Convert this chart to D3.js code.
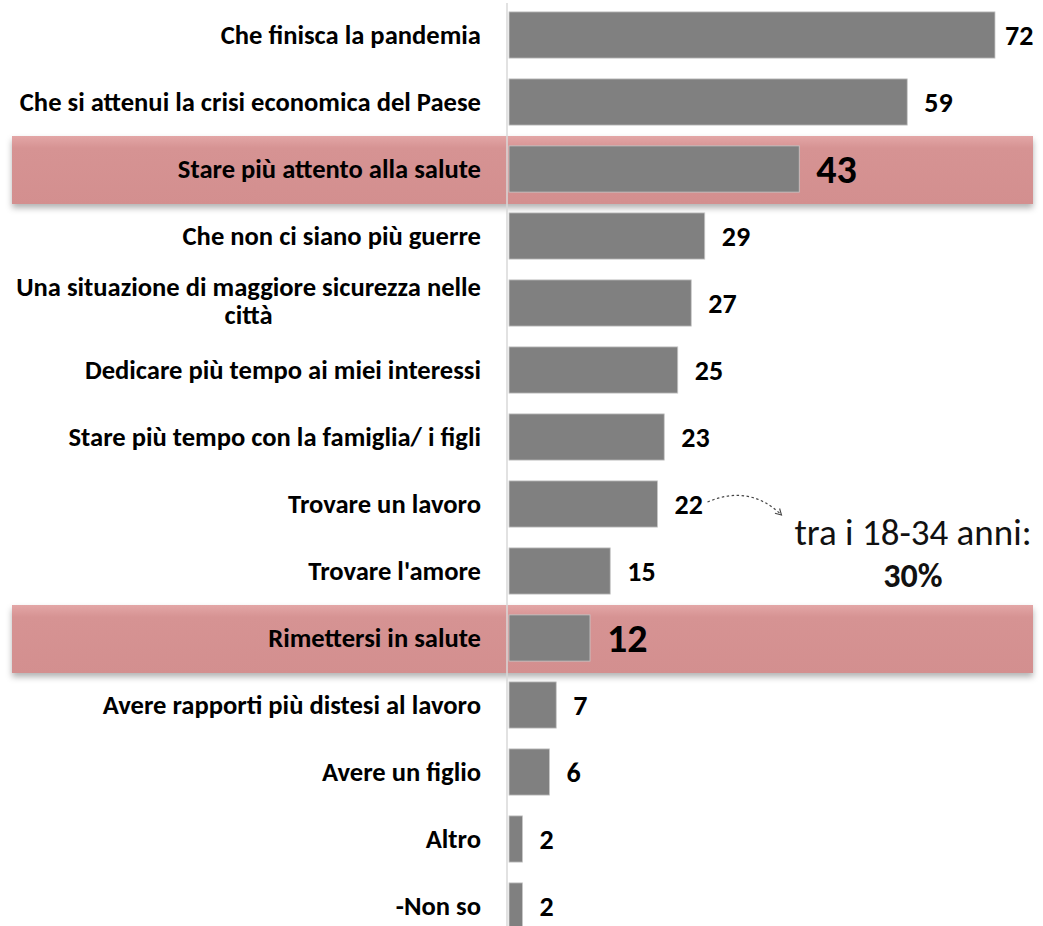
<!DOCTYPE html>
<html>
<head>
<meta charset="utf-8">
<script src="https://cdn.jsdelivr.net/npm/d3@7"></script>
<style>
  html, body { margin: 0; padding: 0; background: #fff; }
  svg { display: block; font-family: Carlito, Calibri, Lato, sans-serif; }
</style>
</head>
<body>
<svg id="chart" width="1043" height="926"></svg>
<script>
const categories = [
  "Che finisca la pandemia",
  "Che si attenui la crisi economica del Paese",
  "Stare più attento alla salute",
  "Che non ci siano più guerre",
  "Una situazione di maggiore sicurezza nelle città",
  "Dedicare più tempo ai miei interessi",
  "Stare più tempo con la famiglia/ i figli",
  "Trovare un lavoro",
  "Trovare l'amore",
  "Rimettersi in salute",
  "Avere rapporti più distesi al lavoro",
  "Avere un figlio",
  "Altro",
  "-Non so"
]
const values = [72, 59, 43, 29, 27, 25, 23, 22, 15, 12, 7, 6, 2, 2]
const highlighted = ["Stare più attento alla salute", "Rimettersi in salute"]
const wrapped = { "Una situazione di maggiore sicurezza nelle città": ["Una situazione di maggiore sicurezza nelle", "città"] }
const noteCategory = "Trovare un lavoro"
const noteLines = ["tra i 18-34 anni:", "30%"]

const data = categories.map((c, i) => ({ name: c, value: values[i] }))

const svg = d3.select("#chart")
const defs = svg.append("defs")

// band shadow + gradient
const shadow = defs.append("filter").attr("id", "shadow")
    .attr("x", "-5%").attr("y", "-20%").attr("width", "110%").attr("height", "160%")
shadow.append("feDropShadow")
    .attr("dx", 0).attr("dy", 4).attr("stdDeviation", 3)
    .attr("flood-color", "#000").attr("flood-opacity", 0.3)

const grad = defs.append("linearGradient").attr("id", "bandFill")
    .attr("x1", 0).attr("y1", 0).attr("x2", 0).attr("y2", 1)
grad.append("stop").attr("offset", "0%").attr("stop-color", "#e3a6a6")
grad.append("stop").attr("offset", "18%").attr("stop-color", "#d69393")
grad.append("stop").attr("offset", "100%").attr("stop-color", "#d38f8f")

const x = d3.scaleLinear().domain([0, 72]).range([509, 995])
const y = d3.scaleBand().domain(categories).range([1.5, 939.5])
    .paddingInner(0.31).paddingOuter(0.155)
const cy = d => y(d.name) + y.bandwidth() / 2

//highlight bands
svg.append("g").selectAll("rect")
    .data(data.filter(d => highlighted.includes(d.name))).enter().append("rect")
    .attr("x", 12)
    .attr("width", 1021)
    .attr("y", d => cy(d) - 33)
    .attr("height", 68)
    .attr("fill", "url(#bandFill)")
    .attr("filter", "url(#shadow)")

//axis line
svg.append("line")
    .attr("x1", 507).attr("x2", 507)
    .attr("y1", 3).attr("y2", 926)
    .attr("stroke", "#d9d9d9").attr("stroke-width", 1.5)

//bars
svg.append("g").selectAll("rect")
    .data(data).enter().append("rect")
    .attr("x", x(0))
    .attr("y", d => y(d.name))
    .attr("width", d => x(d.value) - x(0))
    .attr("height", y.bandwidth())
    .attr("fill", "#808080")
    .attr("stroke", "#c8c8c8")
    .attr("stroke-width", 0.8)

//category labels
const labelG = svg.append("g")
    .attr("font-size", 26.6)
    .attr("font-weight", "bold")
    .attr("fill", "#000")

labelG.selectAll("text.single")
    .data(data.filter(d => !wrapped[d.name])).enter().append("text")
    .attr("class", "single")
    .attr("text-anchor", "end")
    .attr("x", 481)
    .attr("y", cy)
    .attr("dy", "0.33em")
    .text(d => d.name)

// wrapped label: two lines, second centred under the first
data.filter(d => wrapped[d.name]).forEach(d => {
    const [first, second] = wrapped[d.name]
    const l1 = labelG.append("text").attr("text-anchor", "end")
        .attr("x", 481).attr("y", cy(d) - 7).text(first)
    const w = l1.node().getComputedTextLength()
    labelG.append("text").attr("text-anchor", "middle")
        .attr("x", 481 - w / 2).attr("y", cy(d) + 21).text(second)
})

//value labels
svg.append("g").selectAll("text")
    .data(data).enter().append("text")
    .attr("x", d => Math.min(x(d.value) + 17, 1005))
    .attr("y", cy)
    .attr("dy", "0.34em")
    .attr("font-size", d => highlighted.includes(d.name) ? 40 : 28)
    .attr("font-weight", "bold")
    .attr("fill", "#000")
    .text(d => d.value)

//annotation
const noteY = y(noteCategory) + y.bandwidth() / 2
defs.append("marker").attr("id", "arrow")
    .attr("viewBox", "0 0 10 10").attr("refX", 8).attr("refY", 5)
    .attr("markerWidth", 7).attr("markerHeight", 7).attr("orient", "auto")
    .append("path").attr("d", "M1,1 L8,5 L1,9").attr("fill", "none")
    .attr("stroke", "#444").attr("stroke-width", 1.3)

svg.append("path")
    .attr("d", `M${x(22) + 50},${noteY - 2} Q${x(22) + 92},${noteY - 20} ${x(22) + 124},${noteY + 11}`)
    .attr("fill", "none")
    .attr("stroke", "#444")
    .attr("stroke-width", 1.2)
    .attr("stroke-dasharray", "2.5,2.5")
    .attr("marker-end", "url(#arrow)")

svg.append("text")
    .attr("x", 913).attr("y", noteY + 41)
    .attr("text-anchor", "middle")
    .attr("font-size", 37)
    .attr("fill", "#111")
    .text(noteLines[0])
svg.append("text")
    .attr("x", 913).attr("y", noteY + 83)
    .attr("text-anchor", "middle")
    .attr("font-size", 34)
    .attr("font-weight", "bold")
    .attr("fill", "#111")
    .text(noteLines[1])
</script>
</body>
</html>
